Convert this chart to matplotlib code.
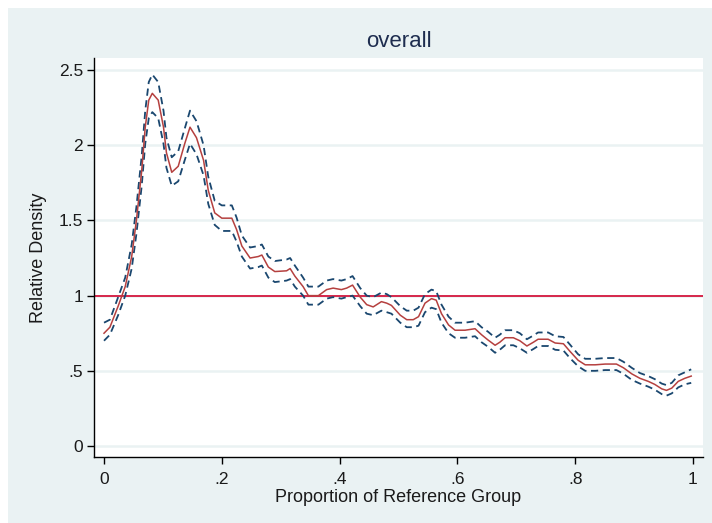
import matplotlib
matplotlib.use("Agg")
import matplotlib.pyplot as plt
from matplotlib.patches import Rectangle

# relative density (centre line) with pointwise confidence band
prop = [0.000, 0.010, 0.024, 0.036, 0.047, 0.055, 0.064, 0.070, 0.076, 0.082,
        0.092, 0.101, 0.106, 0.115, 0.126, 0.137, 0.146, 0.157, 0.169, 0.177,
        0.188, 0.200, 0.217, 0.225, 0.234, 0.248, 0.262, 0.268, 0.279, 0.290,
        0.310, 0.316, 0.324, 0.338, 0.347, 0.364, 0.378, 0.389, 0.403, 0.412,
        0.422, 0.435, 0.446, 0.457, 0.471, 0.480, 0.488, 0.503, 0.514, 0.525,
        0.534, 0.545, 0.556, 0.564, 0.573, 0.585, 0.596, 0.613, 0.630, 0.641,
        0.652, 0.664, 0.672, 0.681, 0.695, 0.706, 0.718, 0.729, 0.737, 0.754,
        0.766, 0.780, 0.791, 0.805, 0.817, 0.834, 0.851, 0.870, 0.882, 0.896,
        0.910, 0.924, 0.935, 0.947, 0.955, 0.964, 0.975, 0.986, 0.997]

density = [0.75, 0.79, 0.93, 1.06, 1.26, 1.50, 1.83, 2.12, 2.30, 2.345,
           2.30, 2.12, 1.95, 1.82, 1.86, 2.01, 2.12, 2.05, 1.90, 1.70,
           1.55, 1.515, 1.515, 1.44, 1.33, 1.25, 1.26, 1.27, 1.19, 1.16,
           1.165, 1.18, 1.13, 1.06, 1.00, 1.00, 1.04, 1.05, 1.04, 1.05,
           1.07, 0.99, 0.94, 0.925, 0.96, 0.95, 0.935, 0.87, 0.84, 0.84,
           0.86, 0.95, 0.98, 0.97, 0.88, 0.805, 0.77, 0.77, 0.78, 0.74,
           0.705, 0.67, 0.69, 0.72, 0.72, 0.70, 0.665, 0.69, 0.71, 0.71,
           0.685, 0.68, 0.63, 0.57, 0.54, 0.54, 0.545, 0.545, 0.52, 0.48,
           0.45, 0.43, 0.41, 0.38, 0.37, 0.385, 0.43, 0.45, 0.465]

lower = [0.70, 0.74, 0.87, 1.00, 1.18, 1.41, 1.73, 2.01, 2.18, 2.22,
         2.18, 2.01, 1.85, 1.73, 1.76, 1.90, 2.01, 1.94, 1.80, 1.61,
         1.47, 1.43, 1.43, 1.36, 1.26, 1.18, 1.19, 1.20, 1.12, 1.09,
         1.10, 1.11, 1.06, 1.00, 0.94, 0.94, 0.98, 0.99, 0.98, 0.99,
         1.00, 0.93, 0.88, 0.87, 0.90, 0.89, 0.88, 0.82, 0.79, 0.79,
         0.80, 0.89, 0.92, 0.91, 0.82, 0.75, 0.72, 0.72, 0.73, 0.69,
         0.66, 0.62, 0.64, 0.67, 0.67, 0.65, 0.62, 0.645, 0.665, 0.665,
         0.64, 0.635, 0.585, 0.53, 0.50, 0.50, 0.505, 0.505, 0.48, 0.44,
         0.415, 0.395, 0.375, 0.345, 0.335, 0.35, 0.39, 0.41, 0.42]

upper = [0.82, 0.84, 0.99, 1.12, 1.34, 1.59, 1.93, 2.23, 2.42, 2.47,
         2.42, 2.23, 2.05, 1.92, 1.96, 2.11, 2.23, 2.16, 2.00, 1.79,
         1.63, 1.60, 1.60, 1.52, 1.40, 1.32, 1.33, 1.34, 1.26, 1.23,
         1.24, 1.25, 1.20, 1.12, 1.06, 1.06, 1.10, 1.11, 1.10, 1.11,
         1.13, 1.05, 1.00, 0.99, 1.02, 1.01, 0.99, 0.93, 0.90, 0.90,
         0.92, 1.01, 1.04, 1.03, 0.94, 0.86, 0.82, 0.82, 0.83, 0.79,
         0.76, 0.72, 0.74, 0.77, 0.77, 0.75, 0.71, 0.735, 0.755, 0.755,
         0.73, 0.725, 0.675, 0.61, 0.58, 0.58, 0.585, 0.585, 0.56, 0.52,
         0.485, 0.465, 0.445, 0.415, 0.405, 0.42, 0.47, 0.49, 0.51]

xticks = [0, 0.2, 0.4, 0.6, 0.8, 1.0]
xtick_labels = ["0", ".2", ".4", ".6", ".8", "1"]
yticks = [0, 0.5, 1, 1.5, 2, 2.5]
ytick_labels = ["0", ".5", "1", "1.5", "2", "2.5"]

BG = "#eaf2f3"
NAVY = "#1a476f"
plt.rcParams["font.family"] = ["Liberation Sans", "DejaVu Sans"]

fig = plt.figure(figsize=(7.12, 5.23), dpi=100)
fig.patch.set_facecolor("white")
fig.patches.append(Rectangle((8 / 712, 0), 1, 1 - 8 / 523, transform=fig.transFigure,
                             facecolor=BG, edgecolor="none", zorder=-10))

ax = fig.add_axes([94 / 712, 66 / 523, 609 / 712, 399 / 523])
ax.set_facecolor("white")

for yv in yticks:
    ax.axhline(yv, color=BG, lw=1.8, zorder=0)

ax.plot(prop, upper, color=NAVY, lw=1.3, ls=(0, (4, 2.5)), zorder=3)
ax.plot(prop, lower, color=NAVY, lw=1.3, ls=(0, (4, 2.5)), zorder=3)
ax.plot(prop, density, color="#b5403f", lw=1.1, zorder=4)
ax.axhline(1, color="#d6264b", lw=1.4, zorder=2)

ax.set_xlim(-0.017, 1.017)
ax.set_ylim(-0.073, 2.58)
ax.set_xticks(xticks)
ax.set_xticklabels(xtick_labels)
ax.set_yticks(yticks)
ax.set_yticklabels(ytick_labels)

for s in ["top", "right"]:
    ax.spines[s].set_visible(False)
for s in ["left", "bottom"]:
    ax.spines[s].set_color("black")
    ax.spines[s].set_linewidth(1.0)
ax.tick_params(direction="out", length=5, width=1.0, labelsize=12.5, colors="black",
               labelcolor="#1a1a1a", pad=3)
ax.tick_params(axis="x", pad=6)

ax.set_xlabel("Proportion of Reference Group", fontsize=13, color="#1a1a1a", labelpad=1)
ax.set_ylabel("Relative Density", fontsize=13, color="#1a1a1a", labelpad=8)
ax.set_title("overall", fontsize=16, color="#1e2d4f", pad=8)

fig.savefig("out.png", dpi=100, facecolor=fig.get_facecolor())
